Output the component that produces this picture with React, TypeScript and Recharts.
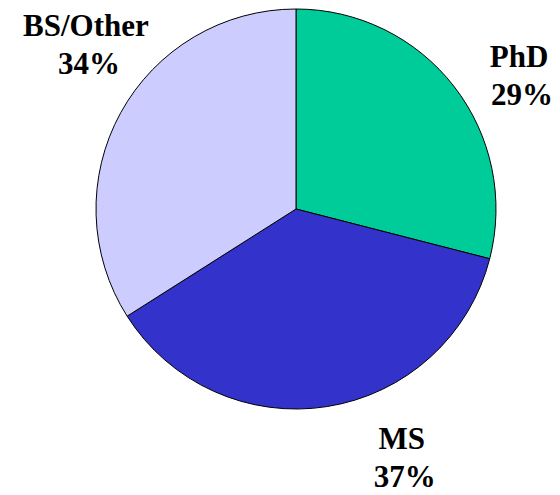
import { PieChart, Pie, Cell } from "recharts";

const categories = ["PhD", "MS", "BS/Other"];
const shares = [29, 37, 34];
const colors = ["#00CC99", "#3333CC", "#CCCCFF"];

const data = categories.map((name, i) => ({ name, value: shares[i] }));

// label placement tweaks: angle shift (deg) and distance from centre
const labelTweak = [
  { shift: -9.2, r: 254 },
  { shift: 13.1, r: 281 },
  { shift: -7.3, r: 260 },
];

const RAD = Math.PI / 180;

function renderLabel(props: any) {
  const { cx, cy, midAngle, index, name, value } = props;
  const t = labelTweak[index];
  const a = (midAngle + t.shift) * RAD;
  const x = cx + t.r * Math.cos(a);
  const y = cy - t.r * Math.sin(a);
  return (
    <text
      x={x}
      y={y}
      textAnchor="middle"
      fill="#000"
      fontFamily="Liberation Serif"
      fontWeight="bold"
      fontSize={31}
    >
      <tspan x={x} y={y - 20}>
        {name}
      </tspan>
      <tspan x={x + 3} y={y + 18}>
        {value}%
      </tspan>
    </text>
  );
}

export default function App() {
  return (
    <div style={{ margin: -8 }}>
      <PieChart width={560} height={495} margin={{ top: 0, right: 0, bottom: 0, left: 0 }}>
        <Pie
          data={data}
          dataKey="value"
          nameKey="name"
          cx={296}
          cy={209}
          outerRadius={200}
          startAngle={90}
          endAngle={-270}
          stroke="#000"
          strokeWidth={1}
          label={renderLabel}
          labelLine={false}
          isAnimationActive={false}
        >
          {data.map((d, i) => (
            <Cell key={d.name} fill={colors[i]} />
          ))}
        </Pie>
      </PieChart>
    </div>
  );
}
